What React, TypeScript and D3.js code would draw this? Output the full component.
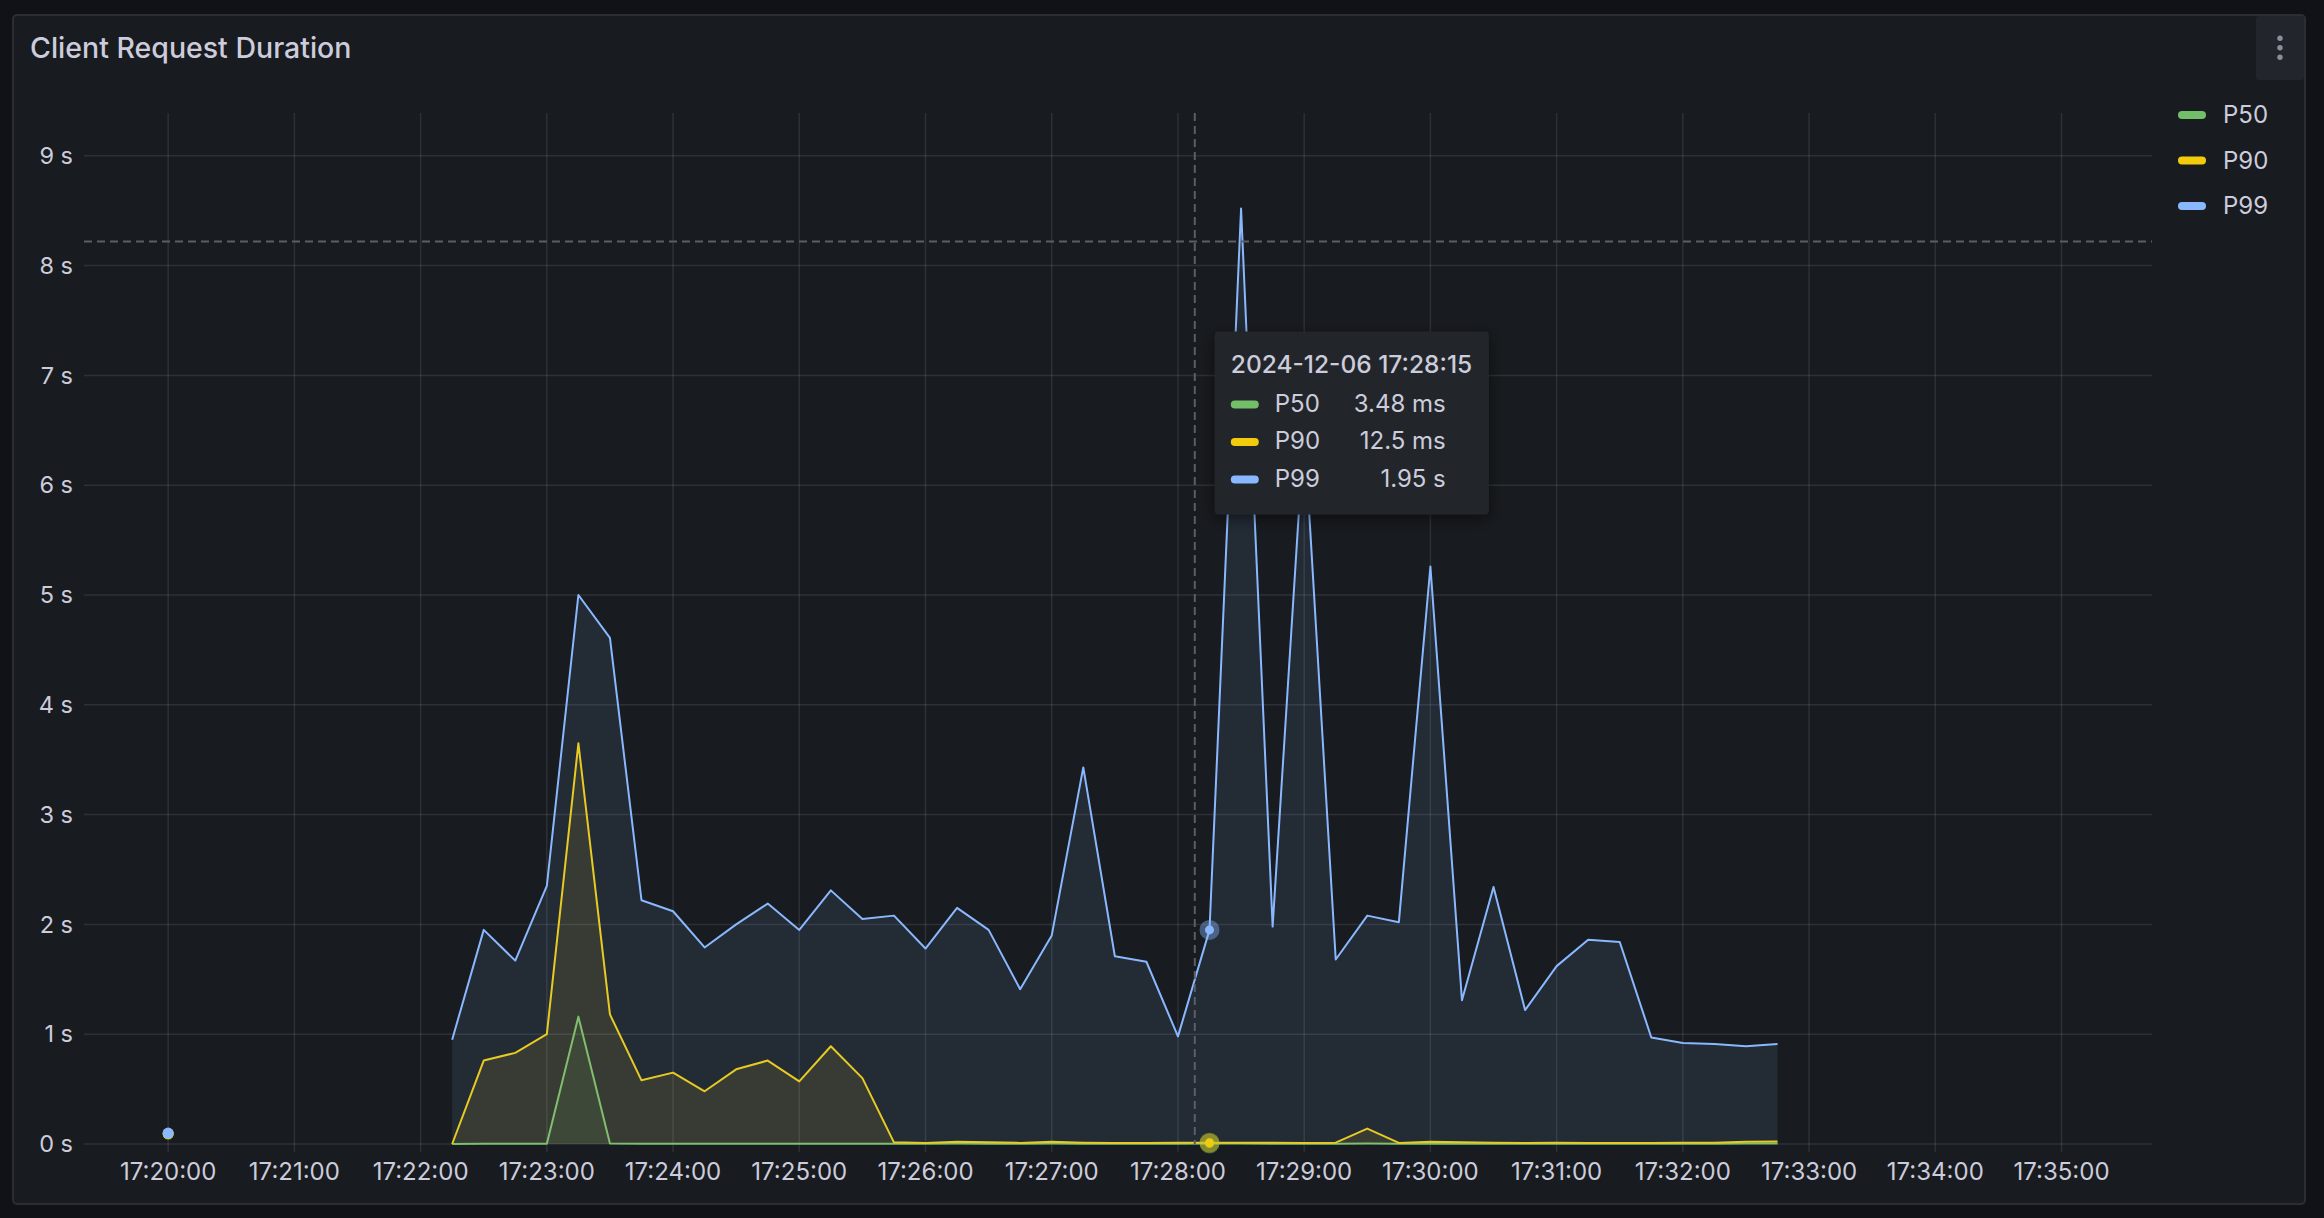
import React, { useEffect, useRef } from "react"
import * as d3 from "d3"

// chart data (Grafana panel: Client Request Duration)
const title = "Client Request Duration"
const seriesNames = ["P50", "P90", "P99"]
const seriesColors = ["#73BF69", "#F2CC0C", "#8AB8FF"]

const times = [
    "17:20:00",
    "17:22:15", "17:22:30", "17:22:45", "17:23:00", "17:23:15", "17:23:30", "17:23:45",
    "17:24:00", "17:24:15", "17:24:30", "17:24:45", "17:25:00", "17:25:15", "17:25:30",
    "17:25:45", "17:26:00", "17:26:15", "17:26:30", "17:26:45", "17:27:00", "17:27:15",
    "17:27:30", "17:27:45", "17:28:00", "17:28:15", "17:28:30", "17:28:45", "17:29:00",
    "17:29:15", "17:29:30", "17:29:45", "17:30:00", "17:30:15", "17:30:30", "17:30:45",
    "17:31:00", "17:31:15", "17:31:30", "17:31:45", "17:32:00", "17:32:15", "17:32:30",
    "17:32:45",
]

const p50 = [
    0.09,
    0.0, 0.003, 0.003, 0.003, 1.16, 0.004, 0.003,
    0.003, 0.003, 0.003, 0.003, 0.003, 0.003, 0.003,
    0.003, 0.003, 0.004, 0.003, 0.003, 0.004, 0.003,
    0.003, 0.003, 0.003, 0.00348, 0.004, 0.003, 0.003,
    0.003, 0.004, 0.003, 0.003, 0.003, 0.003, 0.003,
    0.003, 0.003, 0.003, 0.003, 0.003, 0.003, 0.004,
    0.004,
]

const p90 = [
    0.095,
    0.0, 0.76, 0.83, 1.0, 3.65, 1.18, 0.58,
    0.65, 0.48, 0.68, 0.76, 0.57, 0.89, 0.6,
    0.015, 0.01, 0.02, 0.015, 0.01, 0.02, 0.012,
    0.01, 0.01, 0.011, 0.0125, 0.012, 0.011, 0.01,
    0.012, 0.14, 0.01, 0.02, 0.015, 0.012, 0.01,
    0.011, 0.01, 0.01, 0.01, 0.011, 0.012, 0.02,
    0.022,
]

const p99 = [
    0.1,
    0.95, 1.95, 1.67, 2.35, 5.0, 4.61, 2.22,
    2.12, 1.79, 2.0, 2.19, 1.95, 2.31, 2.05,
    2.08, 1.78, 2.15, 1.95, 1.41, 1.9, 3.43,
    1.71, 1.66, 0.98, 1.95, 8.52, 1.98, 6.52,
    1.68, 2.08, 2.02, 5.26, 1.31, 2.34, 1.22,
    1.62, 1.86, 1.84, 0.97, 0.92, 0.91, 0.89,
    0.91,
]

const xTickLabels = [
    "17:20:00", "17:21:00", "17:22:00", "17:23:00", "17:24:00", "17:25:00", "17:26:00", "17:27:00",
    "17:28:00", "17:29:00", "17:30:00", "17:31:00", "17:32:00", "17:33:00", "17:34:00", "17:35:00",
]
const yTicks = [0, 1, 2, 3, 4, 5, 6, 7, 8, 9]

// hover state shown in the screenshot
const hoverTime = "17:28:15"
const tooltipTitle = "2024-12-06 17:28:15"
const tooltipValues = ["3.48 ms", "12.5 ms", "1.95 s"]
const cursorTime = "17:28:08"
const cursorValue = 8.22

const W = 2324
const H = 1218
const FONT = "Inter, 'Noto Sans', sans-serif"
const TEXT = "#ccccdc"

export default function App() {
    const ref = useRef<SVGSVGElement>(null)

    useEffect(() => {
        const svg = d3.select(ref.current)
        svg.selectAll("*").remove()
        draw()
    }, [])

    const draw = () => {
        const parse = d3.timeParse("%H:%M:%S")
        const dates = times.map((t) => parse(t) as Date)
        const allSeries = [p50, p90, p99]

        const plot = { left: 84, right: 2152, top: 113, bottom: 1144 }

        const x = d3
            .scaleTime()
            .domain([parse("17:19:20") as Date, parse("17:35:43") as Date])
            .range([plot.left, plot.right])
        const y = d3.scaleLinear().domain([0, 9.39]).range([plot.bottom, plot.top])

        const svg = d3.select(ref.current).attr("width", W).attr("height", H).style("font-family", FONT)

        const defs = svg.append("defs")
        const shadow = defs.append("filter").attr("id", "tipShadow").attr("x", "-20%").attr("y", "-20%").attr("width", "140%").attr("height", "150%")
        shadow.append("feDropShadow").attr("dx", 0).attr("dy", 4).attr("stdDeviation", 8).attr("flood-color", "#000").attr("flood-opacity", 0.5)

        // page + panel
        svg.append("rect").attr("width", W).attr("height", H).attr("fill", "#111217")
        svg.append("rect")
            .attr("x", 13).attr("y", 15).attr("width", 2292).attr("height", 1189).attr("rx", 4)
            .attr("fill", "#181b1f").attr("stroke", "#2a2d33").attr("stroke-width", 2)

        svg.append("text").text(title)
            .attr("x", 30).attr("y", 58)
            .attr("fill", TEXT).style("font-size", "28.5px").style("font-weight", 500)

        // menu button
        svg.append("rect").attr("x", 2256).attr("y", 16).attr("width", 48).attr("height", 64).attr("rx", 4).attr("fill", "#22252b")
        svg.append("g").selectAll("circle").data([38.3, 47.7, 57.3]).enter().append("circle")
            .attr("cx", 2280).attr("cy", (d) => d).attr("r", 2.7).attr("fill", "#8e8e99")

        // grid
        const grid = svg.append("g")
        const xTicks = xTickLabels.map((t) => parse(t) as Date)
        grid.selectAll("line.v").data(xTicks).enter().append("line")
            .attr("x1", (d) => x(d)).attr("x2", (d) => x(d))
            .attr("y1", plot.top).attr("y2", plot.bottom + 8)
            .attr("stroke", "rgba(240,250,255,0.1)").attr("stroke-width", 1.5)
        grid.selectAll("line.h").data(yTicks).enter().append("line")
            .attr("x1", plot.left).attr("x2", plot.right)
            .attr("y1", (d) => y(d)).attr("y2", (d) => y(d))
            .attr("stroke", "rgba(240,250,255,0.1)").attr("stroke-width", 1.5)

        // axis labels
        svg.append("g").selectAll("text").data(yTicks).enter().append("text")
            .text((d) => `${d} s`)
            .attr("x", 73).attr("y", (d) => y(d)).attr("dy", "0.35em")
            .attr("text-anchor", "end").attr("fill", TEXT).style("font-size", "23.5px")
        svg.append("g").selectAll("text").data(xTickLabels).enter().append("text")
            .text((d) => d)
            .attr("x", (d) => x(parse(d) as Date)).attr("y", 1180)
            .attr("text-anchor", "middle").attr("fill", TEXT).style("font-size", "24px")

        // split into segments where samples are missing
        const segments: number[][] = []
        dates.forEach((d, i) => {
            if (i === 0 || +d - +dates[i - 1] > 15000) segments.push([i])
            else segments[segments.length - 1].push(i)
        })

        const area = d3.area<number>().x((i) => x(dates[i])).y0(y(0))
        const line = d3.line<number>().x((i) => x(dates[i]))

        allSeries.forEach((vals, s) => {
            const g = svg.append("g")
            segments.forEach((seg) => {
                if (seg.length === 1) {
                    g.append("circle").attr("cx", x(dates[seg[0]])).attr("cy", y(vals[seg[0]])).attr("r", 5.5).attr("fill", seriesColors[s])
                    return
                }
                g.append("path").attr("d", area.y1((i) => y(vals[i]))(seg) as string)
                    .attr("fill", seriesColors[s]).attr("fill-opacity", 0.1)
                g.append("path").attr("d", line.y((i) => y(vals[i]))(seg) as string)
                    .attr("fill", "none").attr("stroke", seriesColors[s]).attr("stroke-width", 2).attr("stroke-linejoin", "round")
            })
        })

        // crosshair
        const cx = x(parse(cursorTime) as Date)
        const cy = y(cursorValue)
        svg.append("line").attr("x1", cx).attr("x2", cx).attr("y1", plot.top).attr("y2", plot.bottom)
            .attr("stroke", "#5b5e66").attr("stroke-width", 2).attr("stroke-dasharray", "8,5")
        svg.append("line").attr("x1", plot.left).attr("x2", plot.right).attr("y1", cy).attr("y2", cy)
            .attr("stroke", "#5b5e66").attr("stroke-width", 2).attr("stroke-dasharray", "8,5")

        // hover points
        const hi = times.indexOf(hoverTime)
        allSeries.forEach((vals, s) => {
            const px = x(dates[hi])
            const py = y(vals[hi])
            svg.append("circle").attr("cx", px).attr("cy", py).attr("r", 10).attr("fill", seriesColors[s]).attr("fill-opacity", 0.4)
            svg.append("circle").attr("cx", px).attr("cy", py).attr("r", 4.5).attr("fill", seriesColors[s])
        })

        // tooltip
        const tx = cx + 20
        const ty = cy + 90
        const tip = svg.append("g").attr("transform", `translate(${tx}, ${ty})`)
        tip.append("rect").attr("width", 274).attr("height", 183).attr("rx", 4).attr("fill", "#22252b").attr("filter", "url(#tipShadow)")
        tip.append("text").text(tooltipTitle).attr("x", 16).attr("y", 42)
            .attr("fill", TEXT).style("font-size", "24.5px").style("font-weight", 500)
        const rows = tip.selectAll("g.row").data(seriesNames).enter().append("g")
            .attr("transform", (d, i) => `translate(0, ${73 + i * 37.5})`)
        rows.append("rect").attr("x", 16).attr("y", -4).attr("width", 28).attr("height", 8).attr("rx", 4)
            .attr("fill", (d, i) => seriesColors[i])
        rows.append("text").text((d) => d).attr("x", 60).attr("dy", "0.3em")
            .attr("fill", TEXT).style("font-size", "24px")
        rows.append("text").text((d, i) => tooltipValues[i]).attr("x", 231).attr("dy", "0.3em")
            .attr("text-anchor", "end").attr("fill", TEXT).style("font-size", "24px")

        // legend
        const legend = svg.append("g").selectAll("g").data(seriesNames).enter().append("g")
            .attr("transform", (d, i) => `translate(2178, ${115 + i * 45.5})`)
        legend.append("rect").attr("y", -4).attr("width", 28).attr("height", 8).attr("rx", 4)
            .attr("fill", (d, i) => seriesColors[i])
        legend.append("text").text((d) => d).attr("x", 45).attr("dy", "0.35em")
            .attr("fill", TEXT).style("font-size", "24px")
    }

    return (
        <div style={{ position: "absolute", left: 0, top: 0, width: W, height: H, background: "#111217" }}>
            <svg ref={ref} style={{ display: "block" }} />
        </div>
    )
}
